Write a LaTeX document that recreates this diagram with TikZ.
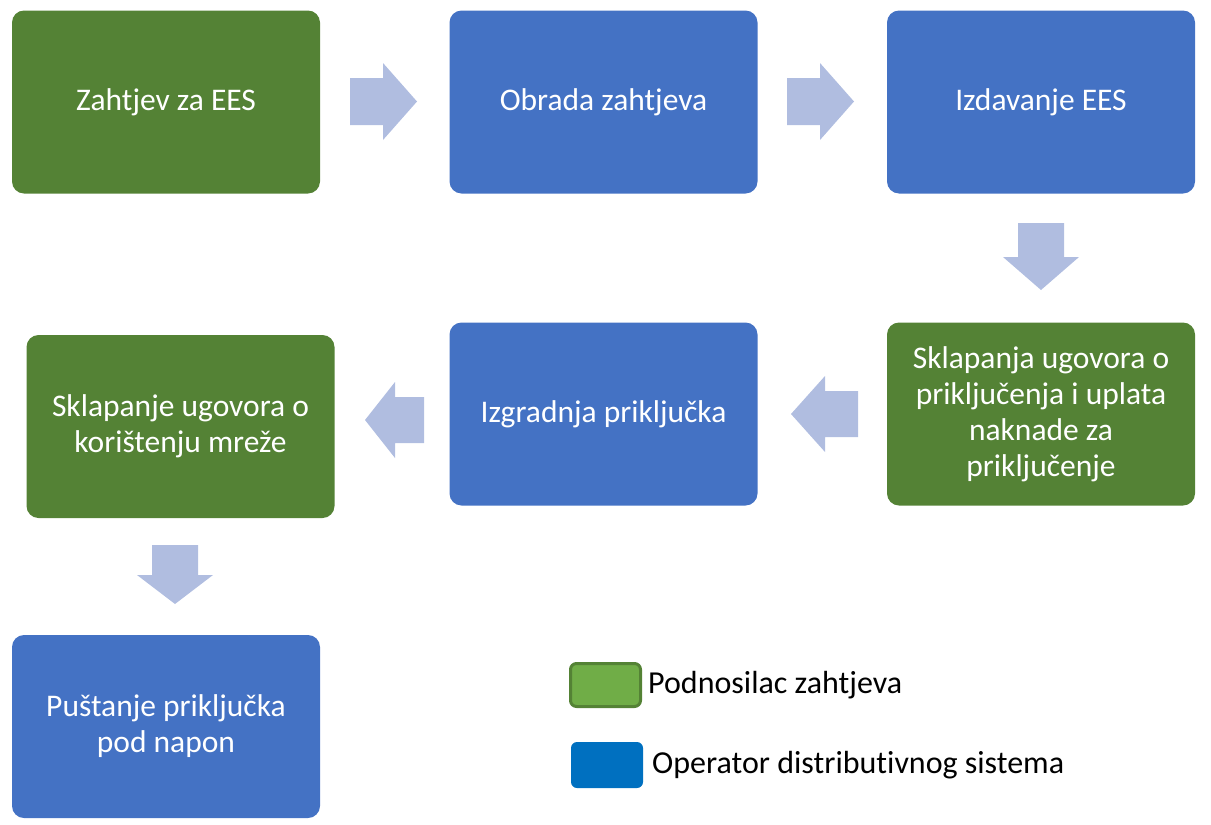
\documentclass[tikz,border=0pt]{standalone}
\usepackage{fontspec}
\setmainfont[Ligatures={NoCommon}]{Carlito}
\definecolor{gbox}{HTML}{548235}
\definecolor{bbox}{HTML}{4472C4}
\definecolor{arr}{HTML}{B0BDE0}
\definecolor{lgreen}{HTML}{70AD47}
\definecolor{lblue}{HTML}{0070C0}
\tikzset{
  stepbox/.style={rectangle, rounded corners=12pt, minimum width=308pt, minimum height=183pt,
    align=center, text=white, font=\fontsize{31.5}{36}\selectfont, inner sep=0pt},
  greenbox/.style={stepbox, fill=gbox},
  bluebox/.style={stepbox, fill=bbox},
  fatarrow/.style={fill=arr, draw=none},
  legtext/.style={anchor=west, font=\fontsize{32}{36}\selectfont, inner sep=0pt}
}
\begin{document}
\begin{tikzpicture}[x=1pt,y=1pt]
\useasboundingbox (0,0) rectangle (1211,-825);
\node[greenbox] (b1) at (166,-102) {Zahtjev za EES};
\node[bluebox] (b2) at (603.5,-102) {Obrada zahtjeva};
\node[bluebox] (b3) at (1041,-102) {Izdavanje EES};
\node[greenbox] (b4) at (1041,-414) {Sklapanja ugovora o\\priključenja i uplata\\naknade za\\priključenje};
\node[bluebox] (b5) at (603.5,-414) {Izgradnja priključka};
\node[greenbox] (b6) at (180.5,-426.5) {Sklapanje ugovora o\\korištenju mreže};
\node[bluebox] (b7) at (166,-726.5) {Puštanje priključka\\pod napon};
% right arrows
\fill[fatarrow] (350,-78) -- (383,-78) -- (383,-63) -- (417,-101.5) -- (383,-140) -- (383,-125) -- (350,-125) -- cycle;
\fill[fatarrow] (787,-78) -- (820,-78) -- (820,-63) -- (854,-101.5) -- (820,-140) -- (820,-125) -- (787,-125) -- cycle;
% down arrow
\fill[fatarrow] (1018,-223) -- (1064,-223) -- (1064,-257) -- (1079,-257) -- (1041,-290) -- (1003,-257) -- (1018,-257) -- cycle;
% left arrows
\fill[fatarrow] (858,-391) -- (825,-391) -- (825,-376) -- (791,-414) -- (825,-452) -- (825,-437) -- (858,-437) -- cycle;
\fill[fatarrow] (424,-397) -- (395,-397) -- (395,-382) -- (365,-420) -- (395,-458) -- (395,-443) -- (424,-443) -- cycle;
% down arrow 2
\fill[fatarrow] (152,-545) -- (198,-545) -- (198,-575) -- (213,-575) -- (175,-604) -- (137,-575) -- (152,-575) -- cycle;
% legend
\node[rectangle, rounded corners=6pt, fill=lgreen, draw=gbox, line width=3pt, minimum width=70pt, minimum height=43pt, inner sep=0pt] (lg) at (605.5,-685) {};
\node[legtext] (lgt) at (648,-685) {Podnosilac zahtjeva};
\node[rectangle, rounded corners=6pt, fill=lblue, minimum width=72pt, minimum height=46pt, inner sep=0pt] (lb) at (607,-765) {};
\node[legtext] (lbt) at (652,-765) {Operator distributivnog sistema};
\end{tikzpicture}
\end{document}
